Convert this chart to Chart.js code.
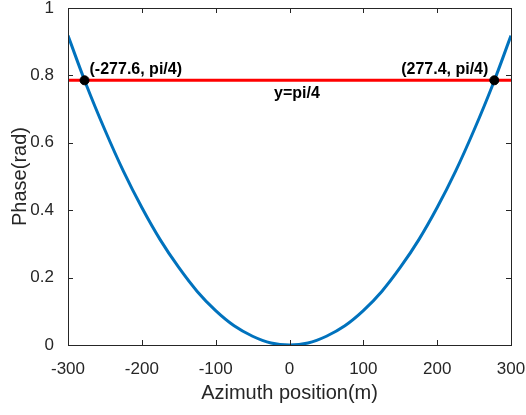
<!DOCTYPE html>
<html>
<head>
<meta charset="utf-8">
<script src="https://cdn.jsdelivr.net/npm/chart.js@4.4.1/dist/chart.umd.min.js"></script>
<style>
  html, body { margin: 0; padding: 0; background: #fff; }
  #wrap { width: 526px; height: 415px; }
</style>
</head>
<body>
<div id="wrap"><canvas id="chart"></canvas></div>
<script>
// azimuth positions (m) and phase (rad)
const azimuth = [-300, -275, -250, -225, -200, -175, -150, -125, -100, -75, -50, -25, 0,
                 25, 50, 75, 100, 125, 150, 175, 200, 225, 250, 275, 300];
const phase = [0.918, 0.771, 0.638, 0.516, 0.408, 0.312, 0.230, 0.159, 0.102, 0.057, 0.026, 0.006, 0,
               0.006, 0.026, 0.057, 0.102, 0.159, 0.230, 0.312, 0.408, 0.516, 0.638, 0.771, 0.918];

// horizontal line y = pi/4
const lineX = [-300, 300];
const lineY = [Math.PI / 4, Math.PI / 4];

// crossing points
const crossX = [-277.6, 277.4];
const crossY = [Math.PI / 4, Math.PI / 4];
const crossText = ['(-277.6, pi/4)', '(277.4, pi/4)'];
const lineText = 'y=pi/4';

const xTicks = [-300, -200, -100, 0, 100, 200, 300];
const yTicks = [0, 0.2, 0.4, 0.6, 0.8, 1];

const FONT = "'Liberation Sans', Arial, sans-serif";
const AXIS_COLOR = '#262626';

function toPoints(xs, ys) {
    return xs.map((x, i) => ({x: x, y: ys[i]}));
}

// box with inward ticks, plus the text notes
const boxPlugin = {
    id: 'boxPlugin',
    afterDraw(chart) {
        const ctx = chart.ctx;
        const a = chart.chartArea;
        const sx = chart.scales.x;
        const sy = chart.scales.y;
        const len = 5;
        ctx.save();
        ctx.strokeStyle = AXIS_COLOR;
        ctx.lineWidth = 1;
        ctx.strokeRect(Math.round(a.left) + 0.5, Math.round(a.top) + 0.5,
            Math.round(a.right - a.left), Math.round(a.bottom - a.top));
        ctx.beginPath();
        xTicks.forEach(v => {
            const px = Math.round(sx.getPixelForValue(v)) + 0.5;
            ctx.moveTo(px, a.bottom); ctx.lineTo(px, a.bottom - len);
            ctx.moveTo(px, a.top); ctx.lineTo(px, a.top + len);
        });
        yTicks.forEach(v => {
            const py = Math.round(sy.getPixelForValue(v)) + 0.5;
            ctx.moveTo(a.left, py); ctx.lineTo(a.left + len, py);
            ctx.moveTo(a.right, py); ctx.lineTo(a.right - len, py);
        });
        ctx.stroke();

        // labels next to the dots
        ctx.fillStyle = '#000';
        ctx.font = 'bold 16px ' + FONT;
        ctx.textBaseline = 'middle';
        const ly = sy.getPixelForValue(crossY[0]) - 11;
        ctx.textAlign = 'left';
        ctx.fillText(crossText[0], sx.getPixelForValue(crossX[0]) + 5, ly);
        ctx.textAlign = 'right';
        ctx.fillText(crossText[1], sx.getPixelForValue(crossX[1]) - 6, ly);
        ctx.textAlign = 'center';
        ctx.fillText(lineText, sx.getPixelForValue(10), sy.getPixelForValue(lineY[0]) + 13);
        ctx.restore();
    }
};

new Chart(document.getElementById('chart'), {
    type: 'scatter',
    data: {
        datasets: [
            {
                data: toPoints(crossX, crossY),
                backgroundColor: '#000',
                borderColor: '#000',
                pointRadius: 4.5,
                showLine: false,
                order: 0
            },
            {
                data: toPoints(azimuth, phase),
                borderColor: '#0072BD',
                borderWidth: 3,
                pointRadius: 0,
                showLine: true,
                tension: 0.4,
                order: 1
            },
            {
                data: toPoints(lineX, lineY),
                borderColor: '#FF0000',
                borderWidth: 3,
                pointRadius: 0,
                showLine: true,
                order: 2
            }
        ]
    },
    options: {
        responsive: true,
        maintainAspectRatio: false,
        animation: false,
        layout: { padding: { top: 8, right: 15, left: 0, bottom: 0 } },
        plugins: {
            legend: { display: false },
            tooltip: { enabled: false }
        },
        scales: {
            x: {
                type: 'linear',
                min: -300,
                max: 300,
                afterFit(scale) {
                    scale.height = 70;
                    scale.paddingLeft = 0;
                    scale.paddingRight = 0;
                },
                afterBuildTicks(scale) { scale.ticks = xTicks.map(v => ({value: v})); },
                grid: { display: false },
                border: { display: false },
                ticks: {
                    color: AXIS_COLOR,
                    font: { family: FONT, size: 17 },
                    padding: 6,
                    maxRotation: 0
                },
                title: {
                    display: true,
                    text: 'Azimuth position(m)',
                    color: AXIS_COLOR,
                    font: { family: FONT, size: 20 },
                    padding: { top: 0, bottom: 10 }
                }
            },
            y: {
                type: 'linear',
                min: 0,
                max: 1,
                afterFit(scale) {
                    scale.width = 68;
                    scale.paddingTop = 0;
                    scale.paddingBottom = 0;
                },
                afterBuildTicks(scale) { scale.ticks = yTicks.map(v => ({value: v})); },
                grid: { display: false },
                border: { display: false },
                ticks: {
                    color: AXIS_COLOR,
                    font: { family: FONT, size: 17 },
                    padding: 6,
                    callback: v => String(v)
                },
                title: {
                    display: true,
                    text: 'Phase(rad)',
                    color: AXIS_COLOR,
                    font: { family: FONT, size: 20 },
                    padding: { top: 8, bottom: 0 }
                }
            }
        }
    },
    plugins: [boxPlugin]
});
</script>
</body>
</html>
